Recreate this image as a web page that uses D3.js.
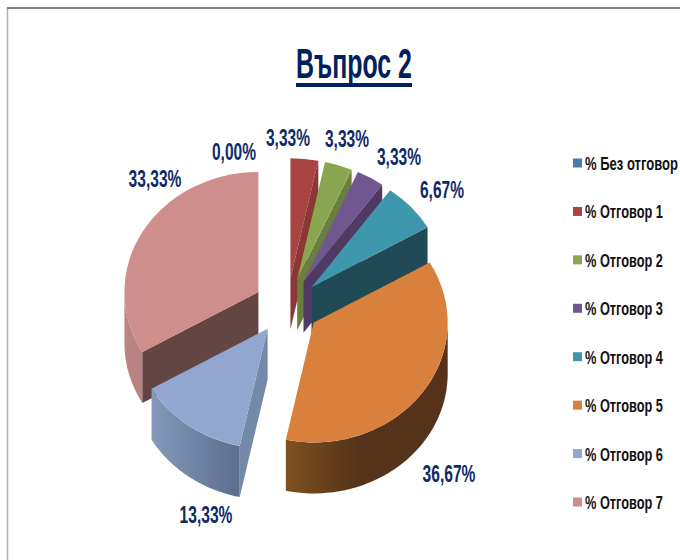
<!DOCTYPE html>
<html><head><meta charset="utf-8">
<script src="https://cdn.jsdelivr.net/npm/d3@7"></script>
<style>html,body{margin:0;padding:0;background:#fff}svg{display:block}
text{font-family:"Liberation Sans",sans-serif;font-weight:bold}</style>
</head><body><svg id="c" width="680" height="560"></svg>
<script>
const titleText = "Въпрос 2";
const categories = ["% Без отговор","% Отговор 1","% Отговор 2","% Отговор 3","% Отговор 4","% Отговор 5","% Отговор 6","% Отговор 7"];
const values = [0, 3.33, 3.33, 3.33, 6.67, 36.67, 13.33, 33.33];
const topColors = ["#4a7ab0","#a94442","#8aa650","#71578f","#3f97ae","#d9813c","#91a7cf","#cd8e8c"];
const faceColors = ["#2c4a6c","#8a3836","#6a7e3e","#4f3a63","#204a55","#55331a","#7488a8","#634644"];
const wallLeft  = ["#4a7ab0","#8a3836","#6a7e3e","#4f3a63","#204a55","#80501f","#8599bb","#bb8583"];
const wallRight = ["#2c4a6c","#8a3836","#6a7e3e","#4f3a63","#204a55","#54331a","#5b6e8e","#b98280"];
const labelPos = [[234,160],[288,146],[347,147],[399,165],[442,198],[449,482],[206,523],[155,187]];

const svg = d3.select("#c");
const defs = svg.append("defs");
const cx0 = 287, cy0 = 306, rx = 134, ry = 120, depth = 51, ex = 33, ey = 28;
const TAU = Math.PI * 2;

// squeeze a text horizontally to a target width, keeping real text
function fitText(x, y, str, size, fill, width, centred) {
  const t = svg.append("text").attr("font-size", size).attr("fill", fill).text(str);
  const sx = width / t.node().getComputedTextLength();
  const left = centred ? x - width / 2 : x;
  t.attr("transform", `translate(${left},${y}) scale(${sx},1)`);
  return t;
}

// frame
svg.append("path").attr("d","M7.5,560V8H680").attr("fill","none").attr("stroke","#b0b0b0").attr("stroke-width",1.5);
svg.append("line").attr("x1",7).attr("x2",680).attr("y1",8).attr("y2",8).attr("stroke","#808080").attr("stroke-width",2);

// title
fitText(296, 78, titleText, 42, "#002060", 116, false);
svg.append("line").attr("x1",296).attr("x2",412).attr("y1",85).attr("y2",85).attr("stroke","#002060").attr("stroke-width",4);

const arcs = d3.pie().sort(null).value(d => d).startAngle(0).endAngle(TAU)(values);
const arcGen = d3.arc().innerRadius(0).outerRadius(1);
const pt = (c, a) => [c[0] + rx * Math.sin(a), c[1] - ry * Math.cos(a)];
const line = d3.line();

const order = [7,1,2,3,4,5,6];
order.forEach(i => {
  const d = arcs[i];
  const mid = (d.startAngle + d.endAngle) / 2;
  const c = [cx0 + ex * Math.sin(mid), cy0 - ey * Math.cos(mid)];
  const g = svg.append("g");
  const a0 = Math.max(d.startAngle, Math.PI / 2), a1 = Math.min(d.endAngle, Math.PI * 1.5);
  if (a1 > a0) {
    const id = "wall" + i;
    const xs = d3.range(0, 41).map(k => pt(c, a0 + (a1 - a0) * k / 40));
    const xA = d3.min(xs, p => p[0]), xB = d3.max(xs, p => p[0]);
    const gr = defs.append("linearGradient").attr("id", id).attr("gradientUnits","userSpaceOnUse")
      .attr("x1",xA).attr("x2",xB).attr("y1",0).attr("y2",0);
    gr.append("stop").attr("offset",0).attr("stop-color",wallLeft[i]);
    gr.append("stop").attr("offset",i === 5 ? 0.45 : 1).attr("stop-color",wallRight[i]);
    const poly = xs.concat(xs.slice().reverse().map(p => [p[0], p[1] + depth]));
    g.append("path").attr("d", line(poly) + "Z").attr("fill", `url(#${id})`);
  }
  const face = a => {
    const e = pt(c, a);
    g.append("path").attr("d", line([c, e, [e[0], e[1] + depth], [c[0], c[1] + depth]]) + "Z").attr("fill", faceColors[i]);
  };
  if (Math.sin(d.startAngle) < -1e-6) face(d.startAngle);
  if (Math.sin(d.endAngle) > 1e-6) face(d.endAngle);
  g.append("path").attr("d", arcGen(d))
    .attr("transform", `translate(${c[0]},${c[1]}) scale(${rx},${ry})`)
    .attr("fill", topColors[i]);
});

// value labels
const fmt = d3.format(".2f");
values.forEach((v, i) => {
  const s = fmt(v).replace(".",",") + "%";
  fitText(labelPos[i][0], labelPos[i][1], s, 24, "#0f2a68", s.length * 8.8, true);
});

// legend
const ly = d3.scalePoint().domain(categories).range([163,502]);
categories.forEach((n, i) => {
  svg.append("rect").attr("x",573).attr("y",ly(n)-4.5).attr("width",9).attr("height",9).attr("fill",topColors[i]);
  fitText(585, ly(n)+7, n, 19, "#111", i === 0 ? 93 : 78, false);
});
</script></body></html>
